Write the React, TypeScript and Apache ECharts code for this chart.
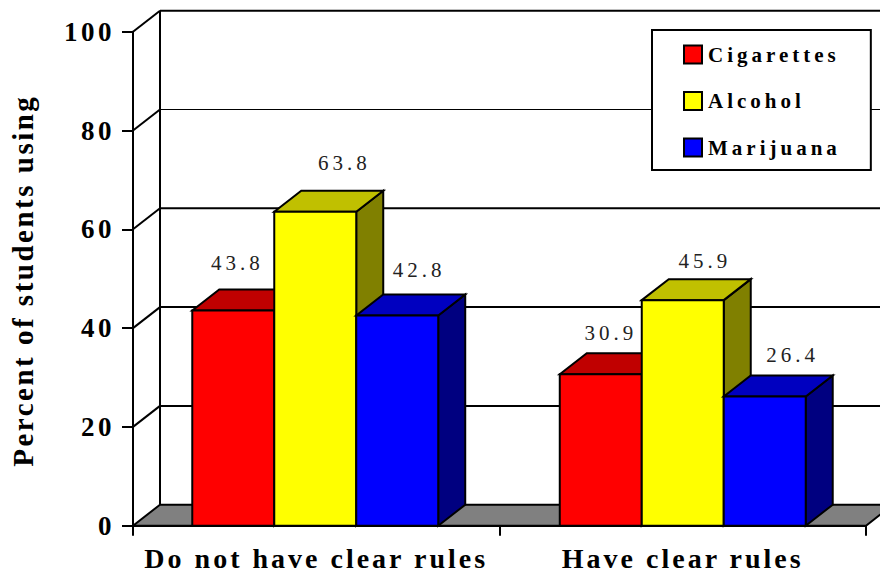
import React, { useEffect, useRef } from "react";
import * as echarts from "echarts";

const categories = ["Do not have clear rules", "Have clear rules"];
const cigarettes = [43.8, 30.9];
const alcohol = [63.8, 45.9];
const marijuana = [42.8, 26.4];
const yTicks = [0, 20, 40, 60, 80, 100];

const seriesNames = ["Cigarettes", "Alcohol", "Marijuana"];
const seriesValues = [cigarettes, alcohol, marijuana];
const faceColors = ["#ff0000", "#ffff00", "#0000ff"];
const topColors = ["#c00000", "#c0c000", "#0000c0"];
const sideColors = ["#800000", "#808000", "#000080"];

const DX = 27;
const DY = 21;
const BAR_FRACTION = 0.2237;
const TOP_DROP = 1.2;
const GROUP_SHIFT = [-1, 0];
// hand-placed label offsets in the source chart: [series][category] -> [dx from bar centre, dy above bar top]
const LABEL_NUDGE = [
  [[4, 48], [10, 41]],
  [[29, 49], [22, 39]],
  [[22, 45], [28, 41]],
];
const FONT = "'Liberation Serif', 'Times New Roman', serif";

const wallRender = (params: any, api: any) => {
  const tick = api.value(1);
  const [, y] = api.coord([0, tick]);
  const cs = params.coordSys;
  const left = cs.x;
  const right = cs.x + cs.width;
  const line = (x1: number, y1: number, x2: number, y2: number, w = 2) => ({
    type: "line",
    shape: { x1, y1, x2, y2 },
    style: { stroke: "#000", lineWidth: w, fill: "none" },
  });
  const children: any[] = [];
  if (tick === 0) {
    children.push({
      type: "polygon",
      shape: { points: [[left, y], [left + DX, y - DY], [right + DX, y - DY], [right, y]] },
      style: { fill: "#808080", stroke: "#000", lineWidth: 2 },
    });
    children.push(line(left + DX, y - DY, left + DX, cs.y - DY));
  } else {
    children.push(line(left + DX, y - DY, right + DX, y - DY, tick === 80 ? 1 : 2));
    children.push(line(left, y, left + DX, y - DY));
  }
  return { type: "group", children };
};

const barRender = (s: number) => (_: any, api: any) => {
  const idx = api.value(0);
  const v = api.value(1);
  const [cx, rawTop] = api.coord([idx, v]);
  const top = rawTop + TOP_DROP;
  const [, base] = api.coord([idx, 0]);
  const w = api.size([1, 0])[0] * BAR_FRACTION;
  const x0 = cx + GROUP_SHIFT[idx] + (s - 1.5) * w;
  const x1 = x0 + w;
  const border = { stroke: "#000", lineWidth: 2, lineJoin: "miter" };
  const [nx, ny] = LABEL_NUDGE[s][idx];
  return {
    type: "group",
    children: [
      {
        type: "polygon",
        shape: { points: [[x1, top], [x1 + DX, top - DY], [x1 + DX, base - DY], [x1, base]] },
        style: { fill: sideColors[s], ...border },
      },
      {
        type: "polygon",
        shape: { points: [[x0, top], [x0 + DX, top - DY], [x1 + DX, top - DY], [x1, top]] },
        style: { fill: topColors[s], ...border },
      },
      {
        type: "rect",
        shape: { x: x0, y: top, width: w, height: base - top },
        style: { fill: faceColors[s], ...border },
      },
      {
        type: "text",
        style: {
          text: v.toFixed(1),
          x: x0 + w / 2 + nx,
          y: top - ny,
          align: "center",
          verticalAlign: "middle",
          fill: "#222",
          font: `21px ${FONT}`,
        },
      },
    ],
  };
};

const spacingCss = `
#chart3d text[style*="27px"] { letter-spacing: 3.5px; }
#chart3d text[style*="29px"] { letter-spacing: 2.5px; }
#chart3d text[style*="28px"] { letter-spacing: 3px; }
#chart3d text[style*="21px"] { letter-spacing: 4px; }
`;

export default function App() {
  const ref = useRef<HTMLDivElement>(null);
  useEffect(() => {
    const chart = echarts.init(ref.current!, undefined, { renderer: "svg" });
    chart.setOption({
      animation: false,
      backgroundColor: "#fff",
      textStyle: { fontFamily: FONT },
      grid: { left: 133, right: 14, top: 31.7, bottom: 48.3, containLabel: false, outerBoundsMode: "none" },
      legend: {
        left: 652,
        top: 30,
        orient: "vertical",
        padding: [14, 66, 12, 31],
        backgroundColor: "#fff",
        borderColor: "#000",
        borderWidth: 2,
        borderRadius: 0,
        itemWidth: 18,
        itemHeight: 18,
        itemGap: 25.5,
        selectedMode: false,
        textStyle: { fontFamily: FONT, fontWeight: "bold", fontSize: 21, color: "#000", padding: [0, 0, 0, 1] },
        data: seriesNames.map((name, i) => ({
          name,
          icon: "rect",
          itemStyle: { color: faceColors[i], borderColor: "#000", borderWidth: 2 },
        })),
      },
      xAxis: {
        type: "category",
        data: categories,
        axisLine: { lineStyle: { color: "#000", width: 2 } },
        axisTick: { show: true, length: 10, alignWithLabel: false, lineStyle: { color: "#000", width: 2 } },
        axisLabel: { color: "#000", fontFamily: FONT, fontWeight: "bold", fontSize: 28, margin: 19 },
      },
      yAxis: {
        type: "value",
        min: 0,
        max: 100,
        interval: 20,
        splitLine: { show: false },
        axisLine: { show: true, lineStyle: { color: "#000", width: 2 } },
        axisTick: { show: true, length: 11, lineStyle: { color: "#000", width: 2 } },
        axisLabel: { color: "#000", fontFamily: FONT, fontWeight: "bold", fontSize: 27, margin: 18 },
        name: "Percent of students using",
        nameLocation: "middle",
        nameGap: 96,
        nameRotate: 90,
        nameTextStyle: { color: "#000", fontFamily: FONT, fontWeight: "bold", fontSize: 29, padding: [0, 4, 0, 0] },
      },
      series: [
        {
          type: "custom",
          silent: true,
          renderItem: wallRender,
          encode: { x: 0, y: 1 },
          data: yTicks.map((t) => [0, t]),
          z: 1,
        },
        ...seriesNames.map((name, s) => ({
          type: "custom",
          name,
          silent: true,
          renderItem: barRender(s),
          encode: { x: 0, y: 1 },
          itemStyle: { color: faceColors[s] },
          data: seriesValues[s].map((v, i) => [i, v]),
          z: 2,
        })),
      ],
    });
    return () => chart.dispose();
  }, []);
  return (
    <>
      <style>{spacingCss}</style>
      <div
        id="chart3d"
        ref={ref}
        style={{ position: "fixed", left: 0, top: 0, width: 880, height: 574, letterSpacing: "2.5px" }}
      />
    </>
  );
}
